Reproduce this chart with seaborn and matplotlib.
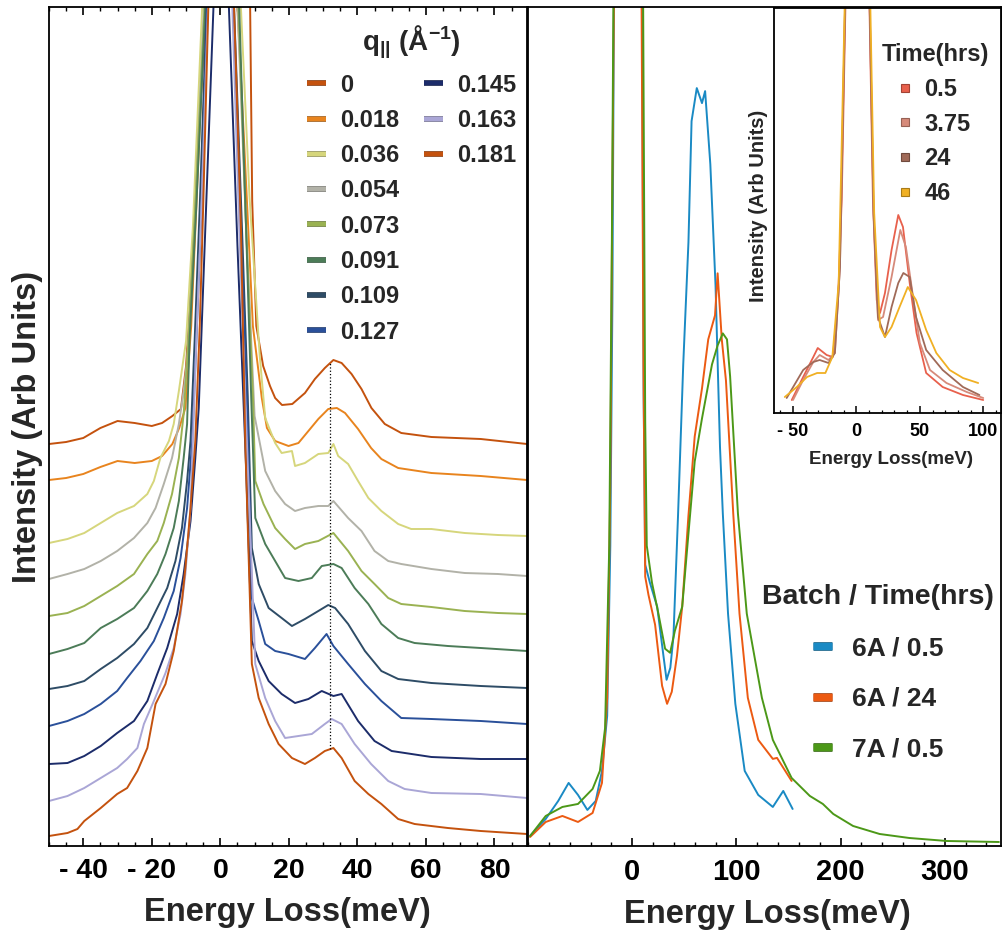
import numpy as np
import pandas as pd
import matplotlib
matplotlib.use("Agg")
import matplotlib.pyplot as plt
import matplotlib.patheffects as pe
from matplotlib.lines import Line2D
from matplotlib.colors import to_rgb
from matplotlib.ticker import MultipleLocator, FixedLocator
import seaborn as sns

sns.set_theme(style="white")
plt.rcParams["font.family"] = ["Liberation Sans", "DejaVu Sans"]
plt.rcParams["font.weight"] = "bold"
plt.rcParams["mathtext.fontset"] = "custom"
plt.rcParams["mathtext.rm"] = "Liberation Sans:bold"
plt.rcParams["mathtext.bf"] = "Liberation Sans:bold"
plt.rcParams["mathtext.it"] = "Liberation Sans:bold"
plt.rcParams["mathtext.default"] = "bf"
plt.rcParams["axes.edgecolor"] = "black"
plt.rcParams["axes.linewidth"] = 1.3

# ---- left panel: spectra vs q (energy meV, intensity arb.) ----
q000 = [(-50, 402), (-45, 404), (-40, 408), (-35, 418), (-30, 425), (-25, 423), (-20, 420),
        (-17, 423), (-14, 430), (-11.5, 437), (-10, 480), (-8.5, 560), (-6.5, 700), (-4.2, 839),
        (1, 4000), (8.7, 839), (9.3, 645), (10.5, 520), (12.5, 480), (14.5, 460), (16, 448),
        (18, 441), (21, 442), (24.7, 453), (27.6, 467), (30.5, 478), (33, 486), (35.4, 483),
        (38.3, 472), (41.2, 457), (44.1, 438), (48, 422), (52.8, 413), (61.6, 409), (76, 407),
        (89.5, 402)]
q018 = [(-50, 366), (-45, 368), (-40, 372), (-35, 379), (-30, 385), (-25, 383), (-20, 385),
        (-17, 390), (-14, 402), (-12, 418), (-10.2, 438), (-8.5, 520), (-6.5, 680), (-4.5, 839),
        (1, 4000), (5.0, 839), (7.0, 700), (9.5, 520), (12.1, 448), (13.6, 418), (16, 405),
        (19.9, 400), (22.8, 403), (25.7, 415), (28.6, 427), (31.5, 437), (34, 438), (36.4, 433),
        (40.2, 417), (44, 398), (47, 387), (51.9, 378), (61.6, 373), (76, 370), (89.5, 366)]
q036 = [(-50, 303), (-44.6, 307), (-39.7, 313), (-34.9, 323), (-30.1, 333), (-25.2, 340),
        (-21.3, 352), (-19.4, 365), (-17.5, 388), (-15, 405), (-13.6, 422), (-12.1, 455),
        (-10, 505), (-8, 620), (-5.3, 839), (1, 4000), (6.0, 839), (8.5, 650), (11.5, 490),
        (13.1, 428), (16, 403), (17.9, 393), (20.9, 395), (21.8, 380), (24.7, 383), (28.6, 392),
        (31.5, 393), (33, 402), (34.4, 390), (37.3, 382), (40.2, 365), (43.2, 348), (47, 335),
        (51.9, 322), (55.7, 317), (61.6, 317), (71.3, 313), (81, 311), (89.5, 310)]
q054 = [(-50, 267), (-44.6, 272), (-39.7, 277), (-34.9, 285), (-30.1, 295), (-25.2, 308),
        (-21.3, 323), (-18.9, 338), (-16.5, 362), (-14.1, 388), (-12.1, 422), (-10.7, 455),
        (-9.7, 485), (-7.5, 620), (-4.8, 839), (1, 4000), (5.0, 839), (7.5, 620), (10.0, 430),
        (13.1, 375), (16, 355), (18.9, 342), (21.8, 335), (24.7, 338), (28.6, 340), (31.5, 340),
        (33, 345), (37.3, 328), (41.2, 315), (45, 295), (49, 285), (52.8, 282), (61.6, 277),
        (71.3, 273), (81, 272), (89.5, 270)]
q073 = [(-50, 230), (-44.6, 233), (-39.7, 240), (-34.9, 250), (-30.1, 260), (-25.2, 272),
        (-21.3, 292), (-18.4, 305), (-16.5, 323), (-14.1, 352), (-12.1, 388), (-10.7, 432),
        (-9.3, 505), (-7.3, 640), (-4.6, 839), (1, 4000), (5.3, 839), (7.5, 620), (9.5, 450),
        (10.2, 365), (12.6, 342), (16, 318), (18.9, 307), (21.8, 297), (24.7, 302), (28.6, 305),
        (33, 313), (37.3, 295), (41.2, 275), (45, 262), (49, 248), (52.8, 242), (61.6, 239),
        (71.3, 235), (81, 233), (89.5, 232)]
q091 = [(-50, 192), (-44.6, 197), (-39.7, 203), (-34.9, 218), (-30.1, 227), (-25.2, 238),
        (-21.3, 255), (-18.4, 272), (-16, 292), (-13.6, 318), (-12.1, 345), (-10.7, 388),
        (-9.7, 422), (-9.0, 505), (-7, 640), (-4.4, 839), (1, 4000), (5.5, 839), (7.5, 620),
        (9.0, 450), (10.2, 328), (13.1, 302), (16, 285), (18.9, 268), (22.8, 265), (26.7, 268),
        (29.6, 280), (33, 282), (35.4, 278), (39.2, 258), (43.2, 242), (47, 222), (51.9, 208),
        (56.7, 203), (66.4, 200), (76, 198), (89.5, 195)]
q109 = [(-50, 157), (-44.6, 160), (-39.7, 165), (-34.9, 177), (-30.1, 188), (-25.2, 202),
        (-21.3, 218), (-18.4, 238), (-15.5, 258), (-13.1, 285), (-11.2, 318), (-9.7, 365),
        (-8.7, 405), (-7.5, 505), (-6.0, 640), (-4.0, 839), (1, 4000), (4.0, 839), (6.5, 600),
        (8.0, 450), (9.2, 298), (11.2, 262), (14.1, 238), (17.9, 228), (20.9, 220), (24.7, 227),
        (28.6, 235), (31.5, 241), (33.5, 238), (37.3, 222), (42.2, 195), (47, 175), (51.9, 167),
        (61.6, 163), (76, 160), (89.5, 158)]
q127 = [(-50, 120), (-44.6, 125), (-39.7, 132), (-34.9, 142), (-30.1, 155), (-27.2, 168),
        (-23.3, 185), (-19.4, 205), (-16.5, 228), (-13.6, 255), (-11.6, 288), (-9.7, 338),
        (-8.2, 405), (-7, 505), (-5.5, 640), (-3.8, 839), (1, 4000), (3.8, 839), (6.0, 620),
        (8.0, 420), (9.2, 248), (11.2, 225), (13.1, 202), (16, 195), (19.9, 192), (24.7, 187),
        (27.6, 198), (31, 212), (33, 200), (37.3, 182), (42.2, 162), (47, 145), (52.8, 128),
        (61.6, 127), (76, 125), (89.5, 122)]
q145 = [(-50, 82), (-44.6, 83), (-39.7, 90), (-34.9, 100), (-30.1, 113), (-25.2, 125),
        (-21.3, 145), (-18.4, 172), (-15.5, 198), (-12.6, 232), (-10.7, 272), (-8.7, 325),
        (-7.3, 388), (-6.3, 438), (-5, 560), (-2.0, 839), (1, 4000), (2.5, 839), (5.0, 600),
        (7.5, 380), (9.2, 205), (11.2, 185), (14.1, 165), (17.9, 152), (21.8, 143), (25.7, 147),
        (29.6, 155), (33, 150), (35.4, 152), (40.2, 125), (45, 105), (50, 95), (61.6, 89),
        (76, 87), (89.5, 87)]
q163 = [(-50, 45), (-44.6, 50), (-39.7, 58), (-34.9, 68), (-30.1, 78), (-27.2, 87), (-24.2, 98),
        (-22.3, 122), (-19.4, 145), (-16, 173), (-13.6, 198), (-11.6, 232), (-10.2, 272),
        (-8.7, 338), (-7, 505), (-5.5, 640), (-3.6, 839), (1, 4000), (3.5, 839), (5.5, 620),
        (7.8, 400), (10.2, 182), (13.1, 148), (16, 125), (18.9, 108), (22.8, 110), (26.7, 112),
        (30.5, 122), (32.5, 127), (35.4, 122), (39.2, 102), (44, 82), (49, 65), (53.8, 57),
        (61.6, 53), (76, 52), (89.5, 48)]
q181 = [(-50, 10), (-44.6, 13), (-41.7, 17), (-39.7, 25), (-34.9, 38), (-30.1, 52), (-27.2, 58),
        (-24.2, 75), (-21.3, 98), (-18.9, 142), (-16, 162), (-13.6, 195), (-11.2, 245),
        (-10.2, 278), (-8.7, 338), (-7.3, 405), (-6, 520), (-5, 640), (-3.5, 839), (1, 4000),
        (4.0, 839), (6.0, 620), (7.3, 400), (9.2, 182), (11.2, 148), (14.1, 122), (17, 102),
        (20.9, 88), (24.7, 82), (27.6, 88), (30.5, 95), (33, 98), (35.4, 88), (39.2, 65),
        (43.2, 52), (47, 42), (51.9, 27), (56.7, 22), (66.4, 18), (76, 15), (89.5, 12)]

q_labels = ["0", "0.018", "0.036", "0.054", "0.073", "0.091", "0.109", "0.127",
            "0.145", "0.163", "0.181"]
q_spectra = [q000, q018, q036, q054, q073, q091, q109, q127, q145, q163, q181]
q_colors = ["#c4520e", "#e8841e", "#d6d67c", "#b2b2a8", "#9ab252", "#4c7c58", "#2e4c66",
            "#2a509a", "#1c2c6a", "#aaa6d6", "#c4520e"]
phonon_energy = 32

# ---- right panel: batches ----
batch_labels = ["6A / 0.5", "6A / 24", "7A / 0.5"]
batch_colors = ["#1a8ac4", "#ec5a12", "#4c9818"]
b6a_05 = [(-98, 10), (-83, 27), (-71, 45), (-61, 63), (-52, 51), (-43, 36), (-35, 45), (-29, 75),
          (-24, 130), (-21, 300), (-19, 542), (-17.5, 845), (0, 5000), (9.5, 845), (11, 450),
          (12.5, 281), (17, 263), (24, 239), (30, 190), (33, 166), (36.6, 178), (39.6, 209),
          (44, 330), (49, 481), (54, 603), (57, 724), (62, 757), (67, 742), (70, 754), (75, 681),
          (80, 560), (82.5, 465), (84.3, 398), (87, 332), (92, 232), (99, 142), (108, 75),
          (121, 51), (135, 39), (145, 55), (154, 37)]
b6a_24 = [(-98, 9), (-83, 24), (-67, 30), (-52, 24), (-38, 33), (-29, 63), (-24, 148), (-21, 360),
          (-19, 663), (-17.5, 845), (0, 5000), (9.0, 845), (10.8, 481), (12.5, 269), (15.6, 251),
          (22, 221), (28.7, 160), (33.5, 142), (38, 154), (43, 190), (48, 239), (54, 330),
          (60, 409), (67, 457), (73, 506), (79.5, 530), (82, 572), (86, 506), (90, 465),
          (97, 332), (103, 232), (111, 148), (121, 106), (135, 87), (139, 88), (153, 65)]
b7a_05 = [(-98, 10), (-83, 30), (-67, 39), (-52, 42), (-38, 57), (-31, 75), (-26, 118), (-22, 300),
          (-19.5, 603), (-18, 845), (0, 5000), (10.5, 845), (12.5, 424), (14, 300), (19, 263),
          (25, 233), (31.6, 197), (36.4, 193), (41, 215), (48, 239), (54, 312), (60, 384),
          (67, 427), (76.6, 481), (82, 500), (87, 512), (91, 506), (94, 469), (101.5, 332),
          (110, 232), (115, 203), (124.5, 148), (135, 106), (153, 68), (170.5, 50), (183, 42),
          (193, 32), (212, 20), (237.5, 12), (266, 8), (302, 5), (352, 4)]
batch_spectra = [b6a_05, b6a_24, b7a_05]

# ---- inset: time series ----
time_labels = ["0.5", "3.75", "24", "46"]
time_colors = ["#e8604c", "#d68a7a", "#a06a58", "#f0b024"]
t05 = [(-51, 13), (-42, 36), (-34, 56), (-30.5, 65), (-23.5, 58), (-18.6, 56), (-14.5, 113),
       (-11.6, 213), (-8.7, 405), (0, 3000), (10.3, 405), (13, 213), (16, 113), (18.6, 100),
       (22.5, 120), (27.7, 163), (33, 198), (36.7, 186), (42, 130), (47.4, 80), (55, 40),
       (68, 26), (84, 18), (100, 13)]
t375 = [(-50, 13), (-42, 33), (-34, 51), (-29, 58), (-22, 53), (-17, 60), (-13, 146), (-9, 405),
        (0, 3000), (10.5, 405), (13.5, 200), (17, 93), (21, 96), (27.7, 136), (34.6, 183),
        (39, 166), (45, 113), (50, 70), (58, 43), (71, 30), (87, 21), (100, 15)]
t24 = [(-55, 15), (-42, 43), (-34, 51), (-29, 53), (-22, 50), (-17, 60), (-13, 146), (-9, 405),
       (0, 3000), (10.5, 405), (13.5, 200), (17, 96), (22.5, 76), (27.7, 106), (33, 130),
       (37, 140), (42, 136), (47, 96), (55, 63), (68, 43), (84, 26), (97, 18)]
t46 = [(-56.5, 16), (-47, 26), (-39, 36), (-31, 40), (-24.5, 40), (-19, 56), (-14, 130),
       (-9.3, 405), (0, 3000), (11, 405), (14, 200), (18.6, 86), (22.5, 76), (27.7, 86),
       (34, 106), (40.5, 126), (47, 113), (55, 83), (63, 60), (73.5, 43), (84, 35), (96, 30)]
time_spectra = [t05, t375, t24, t46]


def long_frame(labels, spectra, key):
    rows = []
    for lab, spec in zip(labels, spectra):
        for e, h in spec:
            rows.append((lab, e, h))
    return pd.DataFrame(rows, columns=[key, "energy", "intensity"])


def darker(c, f=0.7):
    return tuple(np.array(to_rgb(c)) * f)


def bar_handle(c, label, px):
    # short thick legend bar with a darker outline
    lw = px * 0.72
    return Line2D([], [], color=c, linewidth=lw, solid_capstyle="butt", label=label,
                  path_effects=[pe.Stroke(linewidth=lw + 1.2, foreground=darker(c)),
                                pe.Normal()])


def square_handle(c, label):
    return Line2D([], [], linestyle="none", marker="s", markersize=6, markerfacecolor=c,
                  markeredgecolor=darker(c), markeredgewidth=0.8, label=label)


W, H = 1002, 935
fig = plt.figure(figsize=(W / 100, H / 100), dpi=100)


def px_axes(x0, y0, x1, y1):
    return fig.add_axes([x0 / W, 1 - y1 / H, (x1 - x0) / W, (y1 - y0) / H])


ax1 = px_axes(49, 7, 527, 846)
ax2 = px_axes(528, 7, 1001, 846)
ax3 = px_axes(774, 8, 1001, 413)

# left panel
df_q = long_frame(q_labels, q_spectra, "q")
sns.lineplot(data=df_q, x="energy", y="intensity", hue="q", hue_order=q_labels,
             palette=q_colors, estimator=None, sort=False, legend=False,
             linewidth=1.4, ax=ax1)
top = np.interp(phonon_energy, *zip(*q000))
bot = np.interp(phonon_energy, *zip(*q181))
ax1.vlines(phonon_energy, bot, top, colors="black", linestyles=":", linewidth=0.9)
ax1.set_xlim(-50, 89.5)
ax1.set_ylim(0, 839)
ax1.xaxis.set_major_locator(FixedLocator([-40, -20, 0, 20, 40, 60, 80]))
ax1.set_xticklabels(["- 40", "- 20", "0", "20", "40", "60", "80"])
ax1.xaxis.set_minor_locator(MultipleLocator(5))
ax1.tick_params(axis="x", which="both", direction="in", top=True, bottom=True,
                labelsize=20.5, pad=8.5, colors="black")
ax1.tick_params(axis="x", which="major", length=6, width=1.2)
ax1.tick_params(axis="x", which="minor", length=3, width=1.0)
ax1.set_yticks([])
ax1.set_xlabel("")
ax1.set_ylabel("")

q_handles = [bar_handle(c, l, 4) for c, l in zip(q_colors, q_labels)]
blank = Line2D([], [], linestyle="none", label="")
q_handles = q_handles + [blank] * 5
leg1 = ax1.legend(handles=q_handles, ncol=2, loc="upper left",
                  bbox_to_anchor=((307 - 49) / 478, (846 - 24) / 839),
                  frameon=False, fontsize=17, title="q$_{||}$ (Å$^{- 1}$)",
                  title_fontsize=20, handlelength=0.8,
                  handletextpad=0.6, columnspacing=1.05, labelspacing=0.52,
                  borderpad=0, borderaxespad=0)
leg1.get_title().set_fontweight("bold")

# right panel
df_b = long_frame(batch_labels, batch_spectra, "batch")
sns.lineplot(data=df_b, x="energy", y="intensity", hue="batch", hue_order=batch_labels,
             palette=batch_colors, estimator=None, sort=False, legend=False,
             linewidth=1.4, ax=ax2)
ax2.set_xlim(-100, 354)
ax2.set_ylim(0, 838)
ax2.xaxis.set_major_locator(FixedLocator([0, 100, 200, 300]))
ax2.set_xticklabels(["0", "100", "200", "300"])
ax2.xaxis.set_minor_locator(MultipleLocator(20))
ax2.tick_params(axis="x", which="both", direction="in", bottom=True, top=False,
                labelsize=21, pad=9, colors="black")
ax2.tick_params(axis="x", which="major", length=6, width=1.2)
ax2.tick_params(axis="x", which="minor", length=3, width=1.0)
ax2.set_yticks([])
ax2.set_xlabel("")
ax2.set_ylabel("")

b_handles = [bar_handle(c, l, 7) for c, l in zip(batch_colors, batch_labels)]
leg2 = ax2.legend(handles=b_handles, loc="upper left",
                  bbox_to_anchor=((762 - 528) / 473, (846 - 584) / 839),
                  frameon=False, fontsize=19, title="Batch / Time(hrs)",
                  title_fontsize=20.5, handlelength=0.72,
                  handletextpad=0.75, labelspacing=1.0, borderpad=0, borderaxespad=0)
leg2.get_title().set_fontweight("bold")

# inset
df_t = long_frame(time_labels, time_spectra, "time")
sns.lineplot(data=df_t, x="energy", y="intensity", hue="time", hue_order=time_labels,
             palette=time_colors, estimator=None, sort=False, legend=False,
             linewidth=1.3, ax=ax3)
ax3.set_facecolor("white")
ax3.set_xlim(-65, 114)
ax3.set_ylim(0, 405)
ax3.xaxis.set_major_locator(FixedLocator([-50, 0, 50, 100]))
ax3.set_xticklabels(["- 50", "0", "50", "100"])
ax3.xaxis.set_minor_locator(MultipleLocator(10))
ax3.tick_params(axis="x", which="both", direction="in", bottom=True, top=False,
                labelsize=13, pad=7, colors="black")
ax3.tick_params(axis="x", which="major", length=5, width=1.1)
ax3.tick_params(axis="x", which="minor", length=2.5, width=0.9)
ax3.set_yticks([])
ax3.set_xlabel("")
ax3.set_ylabel("")

t_handles = [square_handle(c, l) for c, l in zip(time_colors, time_labels)]
leg3 = ax3.legend(handles=t_handles, loc="upper left",
                  bbox_to_anchor=((882 - 774) / 227, (413 - 43) / 405),
                  frameon=False, fontsize=17, title="Time(hrs)", title_fontsize=17,
                  handlelength=0.36, handletextpad=0.65,
                  labelspacing=0.5, borderpad=0, borderaxespad=0)
leg3.get_title().set_fontweight("bold")

# axis titles
fig.text(28 / W, 1 - 427 / H, "Intensity (Arb Units)", rotation=90, fontsize=23.5,
         fontweight="bold", ha="center", va="center")
fig.text(287 / W, 1 - 913 / H, "Energy Loss(meV)", fontsize=23.5, fontweight="bold",
         ha="center", va="center")
fig.text(767 / W, 1 - 914 / H, "Energy Loss(meV)", fontsize=23.5, fontweight="bold",
         ha="center", va="center")
fig.text(891 / W, 1 - 460 / H, "Energy Loss(meV)", fontsize=13.5, fontweight="bold",
         ha="center", va="center")
fig.text(759 / W, 1 - 206 / H, "Intensity (Arb Units)", rotation=90, fontsize=14.5,
         fontweight="bold", ha="center", va="center")

fig.savefig("out.png", dpi=100)
